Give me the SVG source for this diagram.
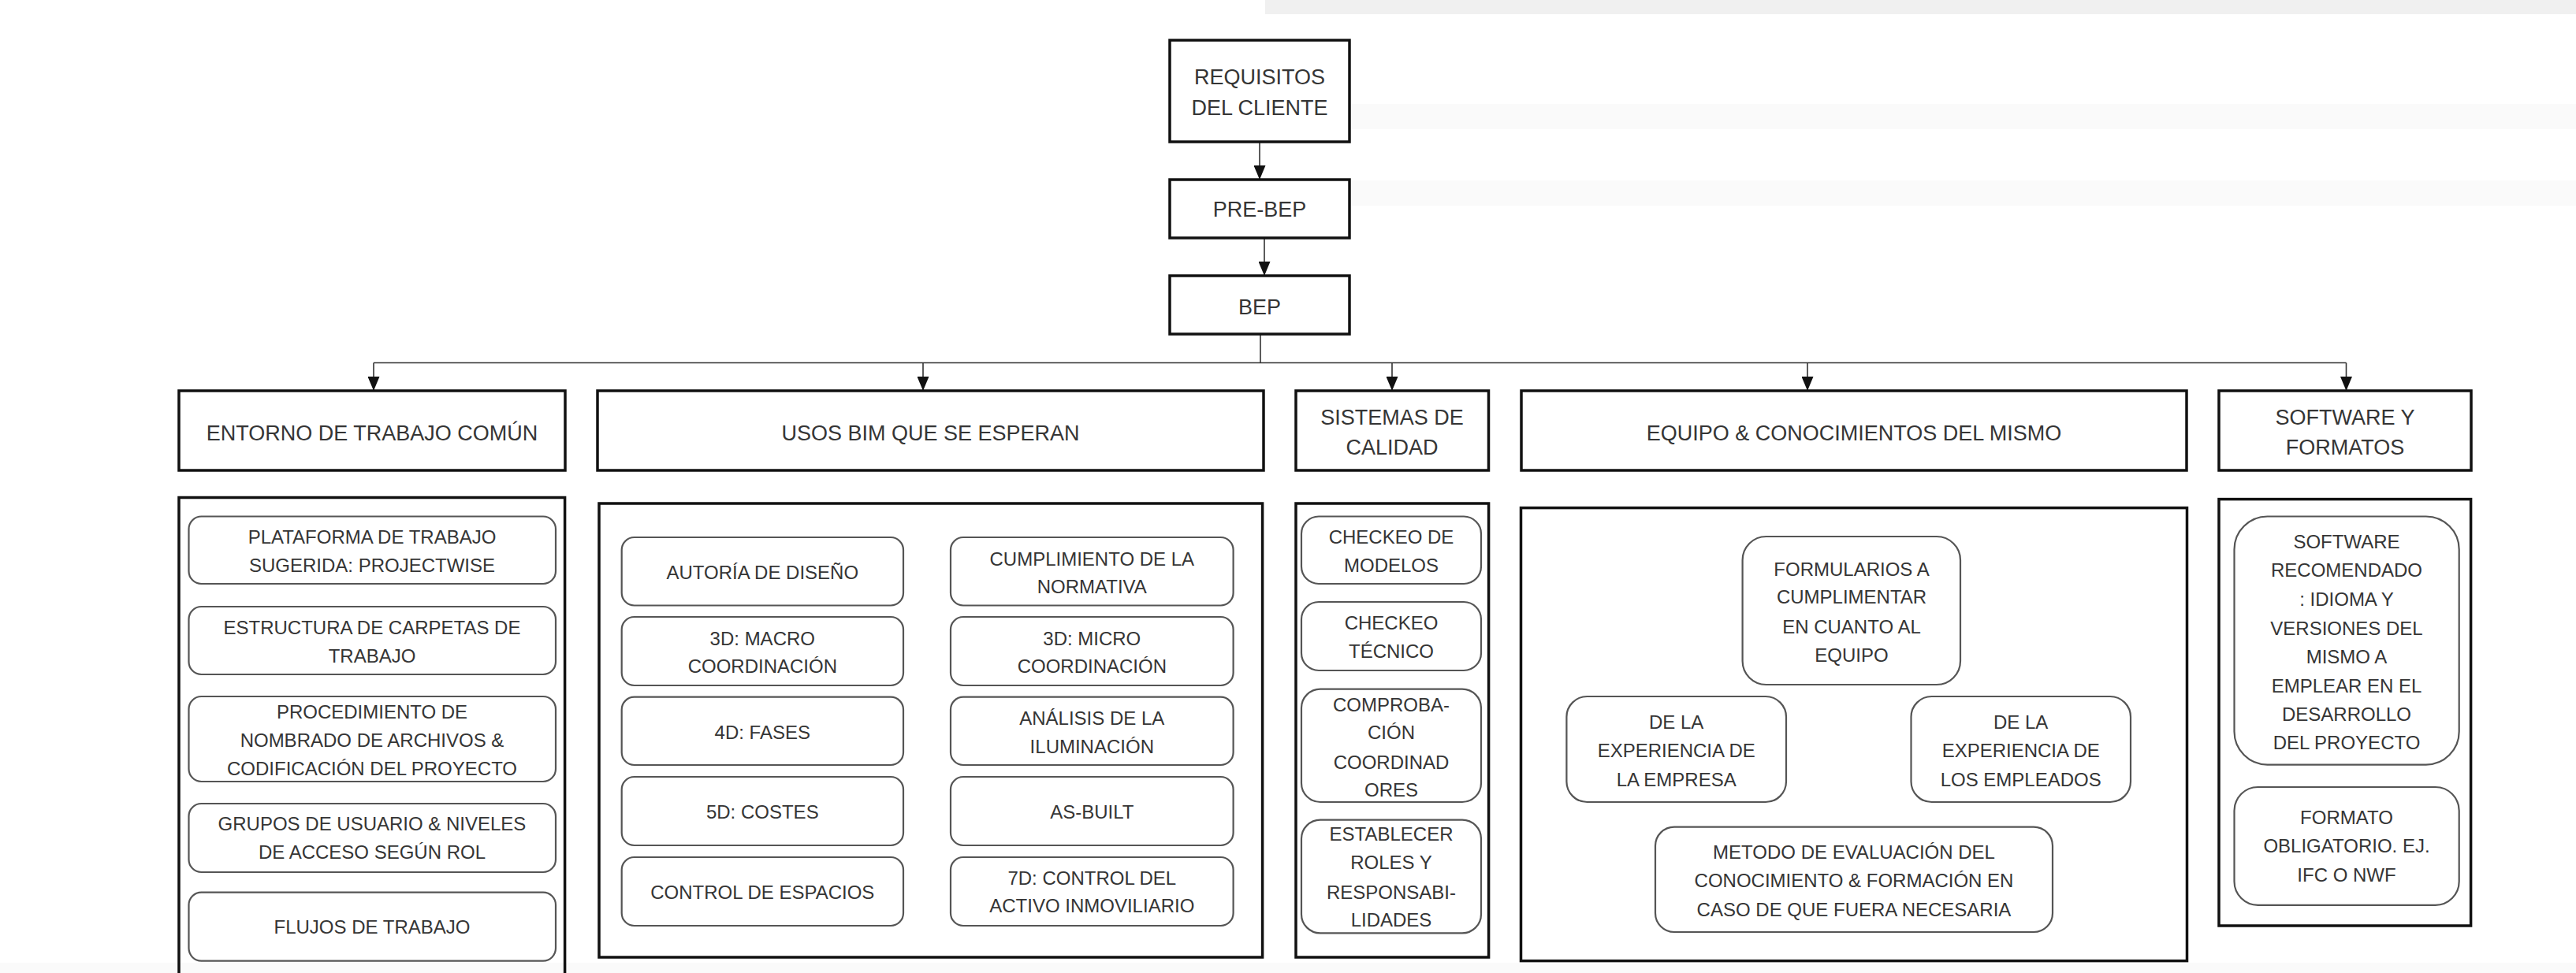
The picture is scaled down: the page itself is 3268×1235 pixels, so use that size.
<svg xmlns="http://www.w3.org/2000/svg" width="3268" height="1235" viewBox="0 0 3268 1235">
  <defs>
    <marker id="arrow" viewBox="0 0 18 15" refX="18" refY="7.5" markerWidth="18" markerHeight="15" markerUnits="userSpaceOnUse" orient="auto">
      <path d="M0,0 L18,7.5 L0,15 Z" fill="#111"/>
    </marker>
    <style>
      .bg { fill: #ffffff; }
      .band { fill: #f0f0f0; }
      .band2 { fill: #fafafa; }
      .head { fill: #ffffff; stroke: #111; stroke-width: 3.5; }
      .frame { fill: none; stroke: #111; stroke-width: 3.5; }
      .item { fill: none; stroke: #555; stroke-width: 2.2; }
      .link { fill: none; stroke: #333; stroke-width: 1.6; }
      text { font-family: "Liberation Sans", Arial, sans-serif; fill: #353535; text-anchor: middle; }
      .h { font-size: 27px; }
      .t { font-size: 24px; }
    </style>
  </defs>

  <!-- page background with faint bands -->
  <rect class="bg" x="0" y="0" width="3268" height="1235"/>
  <rect class="band" x="1605" y="0" width="1663" height="18"/>
  <rect class="band2" x="1640" y="132" width="1628" height="32"/>
  <rect class="band2" x="1640" y="229" width="1628" height="32"/>
  <rect class="band2" x="0" y="1222" width="3268" height="13"/>

  <!-- connectors -->
  <g id="connectors">
    <line class="link" x1="1598" y1="180" x2="1598" y2="228" marker-end="url(#arrow)"/>
    <line class="link" x1="1604" y1="302" x2="1604" y2="350" marker-end="url(#arrow)"/>
    <polyline class="link" points="1599,424 1599,460.5"/>
    <polyline class="link" points="474,460.5 2976.5,460.5"/>
    <line class="link" x1="474" y1="460.5" x2="474" y2="496" marker-end="url(#arrow)"/>
    <line class="link" x1="1171" y1="460.5" x2="1171" y2="496" marker-end="url(#arrow)"/>
    <line class="link" x1="1766" y1="460.5" x2="1766" y2="496" marker-end="url(#arrow)"/>
    <line class="link" x1="2293" y1="460.5" x2="2293" y2="496" marker-end="url(#arrow)"/>
    <line class="link" x1="2976.5" y1="460.5" x2="2976.5" y2="496" marker-end="url(#arrow)"/>
  </g>

  <!-- top chain -->
  <g id="requisitos">
    <rect class="head" x="1484" y="51" width="228" height="129"/>
    <text class="h" x="1598" y="107">REQUISITOS</text>
    <text class="h" x="1598" y="145.5">DEL CLIENTE</text>
  </g>
  <g id="pre-bep">
    <rect class="head" x="1484" y="228" width="228" height="74"/>
    <text class="h" x="1598" y="275">PRE-BEP</text>
  </g>
  <g id="bep">
    <rect class="head" x="1484" y="350" width="228" height="74"/>
    <text class="h" x="1598" y="398.5">BEP</text>
  </g>

  <!-- section headers -->
  <g id="entorno">
    <rect class="head" x="227" y="496" width="490" height="101"/>
    <text class="h" x="472" y="558.5">ENTORNO DE TRABAJO COMÚN</text>
  </g>
  <g id="usos">
    <rect class="head" x="758" y="496" width="845" height="101"/>
    <text class="h" x="1180.5" y="558.5">USOS BIM QUE SE ESPERAN</text>
  </g>
  <g id="sistemas">
    <rect class="head" x="1644" y="496" width="244.5" height="101"/>
    <text class="h" x="1766" y="538.5">SISTEMAS DE</text>
    <text class="h" x="1766" y="577">CALIDAD</text>
  </g>
  <g id="equipo">
    <rect class="head" x="1930" y="496" width="844" height="101"/>
    <text class="h" x="2352" y="558.5">EQUIPO &amp; CONOCIMIENTOS DEL MISMO</text>
  </g>
  <g id="software">
    <rect class="head" x="2815" y="496" width="320" height="101"/>
    <text class="h" x="2975" y="538.5">SOFTWARE Y</text>
    <text class="h" x="2975" y="577">FORMATOS</text>
  </g>

  <!-- ENTORNO DE TRABAJO COMÚN contents -->
  <g id="entorno-lista">
    <path class="frame" d="M227,1240 L227,631.6 L716.6,631.6 L716.6,1240"/>
    <g id="entorno-plataforma">
      <rect class="item" x="239.5" y="655.5" width="465.5" height="85.5" rx="16"/>
      <text class="t" x="472" y="690">PLATAFORMA DE TRABAJO</text>
      <text class="t" x="472" y="726.4">SUGERIDA: PROJECTWISE</text>
    </g>
    <g id="entorno-carpetas">
      <rect class="item" x="239.5" y="770" width="465.5" height="86" rx="16"/>
      <text class="t" x="472" y="805">ESTRUCTURA DE CARPETAS DE</text>
      <text class="t" x="472" y="840.5">TRABAJO</text>
    </g>
    <g id="entorno-nombrado">
      <rect class="item" x="239.5" y="884" width="465.5" height="108" rx="16"/>
      <text class="t" x="472" y="911.9">PROCEDIMIENTO DE</text>
      <text class="t" x="472" y="947.5">NOMBRADO DE ARCHIVOS &amp;</text>
      <text class="t" x="472" y="984">CODIFICACIÓN DEL PROYECTO</text>
    </g>
    <g id="entorno-grupos">
      <rect class="item" x="239.5" y="1020" width="465.5" height="87" rx="16"/>
      <text class="t" x="472" y="1053.6">GRUPOS DE USUARIO &amp; NIVELES</text>
      <text class="t" x="472" y="1090">DE ACCESO SEGÚN ROL</text>
    </g>
    <g id="entorno-flujos">
      <rect class="item" x="239.5" y="1132.6" width="465.5" height="87" rx="16"/>
      <text class="t" x="472" y="1185">FLUJOS DE TRABAJO</text>
    </g>
  </g>

  <!-- USOS BIM QUE SE ESPERAN contents -->
  <g id="usos-lista">
    <rect class="frame" x="760" y="639" width="841.6" height="576"/>
    <g id="usos-autoria">
      <rect class="item" x="788.7" y="682" width="357.3" height="86.5" rx="16"/>
      <text class="t" x="967.3" y="735">AUTORÍA DE DISEÑO</text>
    </g>
    <g id="usos-macro">
      <rect class="item" x="788.7" y="783" width="357.3" height="87" rx="16"/>
      <text class="t" x="967.3" y="818.7">3D: MACRO</text>
      <text class="t" x="967.3" y="854">COORDINACIÓN</text>
    </g>
    <g id="usos-fases">
      <rect class="item" x="788.7" y="884.7" width="357.3" height="86.3" rx="16"/>
      <text class="t" x="967.3" y="938">4D: FASES</text>
    </g>
    <g id="usos-costes">
      <rect class="item" x="788.7" y="986" width="357.3" height="87" rx="16"/>
      <text class="t" x="967.3" y="1039">5D: COSTES</text>
    </g>
    <g id="usos-espacios">
      <rect class="item" x="788.7" y="1088" width="357.3" height="87" rx="16"/>
      <text class="t" x="967.3" y="1140.7">CONTROL DE ESPACIOS</text>
    </g>
    <g id="usos-normativa">
      <rect class="item" x="1206" y="682" width="358.6" height="86.5" rx="16"/>
      <text class="t" x="1385.3" y="717.5">CUMPLIMIENTO DE LA</text>
      <text class="t" x="1385.3" y="752.7">NORMATIVA</text>
    </g>
    <g id="usos-micro">
      <rect class="item" x="1206" y="783" width="358.6" height="87" rx="16"/>
      <text class="t" x="1385.3" y="818.7">3D: MICRO</text>
      <text class="t" x="1385.3" y="854">COORDINACIÓN</text>
    </g>
    <g id="usos-iluminacion">
      <rect class="item" x="1206" y="884.7" width="358.6" height="86.3" rx="16"/>
      <text class="t" x="1385.3" y="920">ANÁLISIS DE LA</text>
      <text class="t" x="1385.3" y="955.6">ILUMINACIÓN</text>
    </g>
    <g id="usos-asbuilt">
      <rect class="item" x="1206" y="986" width="358.6" height="87" rx="16"/>
      <text class="t" x="1385.3" y="1039">AS-BUILT</text>
    </g>
    <g id="usos-activo">
      <rect class="item" x="1206" y="1088" width="358.6" height="87" rx="16"/>
      <text class="t" x="1385.3" y="1122.5">7D: CONTROL DEL</text>
      <text class="t" x="1385.3" y="1158">ACTIVO INMOVILIARIO</text>
    </g>
  </g>

  <!-- SISTEMAS DE CALIDAD contents -->
  <g id="sistemas-lista">
    <rect class="frame" x="1644" y="639" width="244.6" height="576"/>
    <g id="sistemas-modelos">
      <rect class="item" x="1651" y="655.5" width="228" height="85.5" rx="22"/>
      <text class="t" x="1765" y="690">CHECKEO DE</text>
      <text class="t" x="1765" y="726">MODELOS</text>
    </g>
    <g id="sistemas-tecnico">
      <rect class="item" x="1651" y="764" width="228" height="87" rx="22"/>
      <text class="t" x="1765" y="799">CHECKEO</text>
      <text class="t" x="1765" y="835">TÉCNICO</text>
    </g>
    <g id="sistemas-comprobacion">
      <rect class="item" x="1651" y="874.6" width="228" height="143.4" rx="24"/>
      <text class="t" x="1765" y="903">COMPROBA-</text>
      <text class="t" x="1765" y="938">CIÓN</text>
      <text class="t" x="1765" y="976">COORDINAD</text>
      <text class="t" x="1765" y="1011">ORES</text>
    </g>
    <g id="sistemas-roles">
      <rect class="item" x="1651" y="1040.6" width="228" height="143.8" rx="24"/>
      <text class="t" x="1765" y="1067">ESTABLECER</text>
      <text class="t" x="1765" y="1103">ROLES Y</text>
      <text class="t" x="1765" y="1140.7">RESPONSABI-</text>
      <text class="t" x="1765" y="1176">LIDADES</text>
    </g>
  </g>

  <!-- EQUIPO & CONOCIMIENTOS DEL MISMO contents -->
  <g id="equipo-lista">
    <rect class="frame" x="1929.5" y="644.6" width="845" height="575"/>
    <g id="equipo-formularios">
      <rect class="item" x="2210.6" y="681" width="276.4" height="188" rx="30"/>
      <text class="t" x="2349" y="730.8">FORMULARIOS A</text>
      <text class="t" x="2349" y="766">CUMPLIMENTAR</text>
      <text class="t" x="2349" y="803.7">EN CUANTO AL</text>
      <text class="t" x="2349" y="840">EQUIPO</text>
    </g>
    <g id="equipo-empresa">
      <rect class="item" x="1987.4" y="884" width="278.6" height="134" rx="26"/>
      <text class="t" x="2126.7" y="925">DE LA</text>
      <text class="t" x="2126.7" y="960.5">EXPERIENCIA DE</text>
      <text class="t" x="2126.7" y="998">LA EMPRESA</text>
    </g>
    <g id="equipo-empleados">
      <rect class="item" x="2424.5" y="884" width="278.5" height="134" rx="26"/>
      <text class="t" x="2563.7" y="925">DE LA</text>
      <text class="t" x="2563.7" y="960.5">EXPERIENCIA DE</text>
      <text class="t" x="2563.7" y="998">LOS EMPLEADOS</text>
    </g>
    <g id="equipo-evaluacion">
      <rect class="item" x="2100" y="1049.6" width="504" height="133.4" rx="24"/>
      <text class="t" x="2352" y="1090">METODO DE EVALUACIÓN DEL</text>
      <text class="t" x="2352" y="1125.5">CONOCIMIENTO &amp; FORMACIÓN EN</text>
      <text class="t" x="2352" y="1163">CASO DE QUE FUERA NECESARIA</text>
    </g>
  </g>

  <!-- SOFTWARE Y FORMATOS contents -->
  <g id="software-lista">
    <rect class="frame" x="2815" y="633.6" width="319.6" height="541.4"/>
    <g id="software-recomendado">
      <rect class="item" x="2834.5" y="655.5" width="285.2" height="315.1" rx="42"/>
      <text class="t" x="2977" y="696.4">SOFTWARE</text>
      <text class="t" x="2977" y="731.6">RECOMENDADO</text>
      <text class="t" x="2977" y="768.9">: IDIOMA Y</text>
      <text class="t" x="2977" y="805.7">VERSIONES DEL</text>
      <text class="t" x="2977" y="842.2">MISMO A</text>
      <text class="t" x="2977" y="878.6">EMPLEAR EN EL</text>
      <text class="t" x="2977" y="915">DESARROLLO</text>
      <text class="t" x="2977" y="950.7">DEL PROYECTO</text>
    </g>
    <g id="software-formato">
      <rect class="item" x="2834.5" y="999" width="285.2" height="149.8" rx="30"/>
      <text class="t" x="2977" y="1045.5">FORMATO</text>
      <text class="t" x="2977" y="1082">OBLIGATORIO. EJ.</text>
      <text class="t" x="2977" y="1119">IFC O NWF</text>
    </g>
  </g>
</svg>
